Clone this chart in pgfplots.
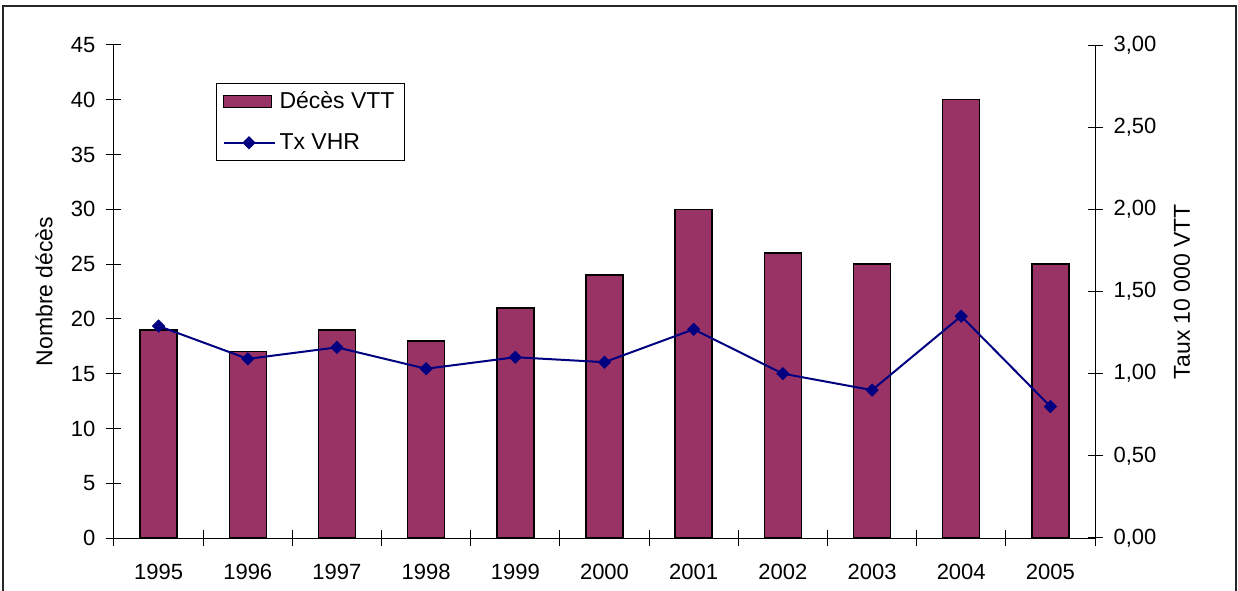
\documentclass[border=0pt]{standalone}
\usepackage{fontspec}
\setmainfont{Liberation Sans}
\usepackage{pgfplots}
\pgfplotsset{compat=1.18}
\definecolor{barcol}{HTML}{993366}
\definecolor{linecol}{HTML}{000080}
\newcommand{\myfont}{\fontsize{11}{13.2}\selectfont}
\newcommand{\legfont}{\fontsize{11.5}{13.8}\selectfont}
\pgfplotsset{
  mylinelegend/.style={legend image code/.code={\draw[mark repeat=2,mark phase=2,##1] plot coordinates {(0pt,0pt) (12.75pt,0pt) (25.5pt,0pt)};}},
  mybarlegend/.style={legend image code/.code={\draw[fill=barcol, draw=black, line width=0.6pt] (0pt,-3pt) rectangle (24pt,3pt);}},
}
\begin{document}
\begin{tikzpicture}[font=\myfont]
\useasboundingbox (0,0) rectangle (619pt,295pt);
\draw[line width=0.6pt, black!85] (1.5pt,-2pt) -- (1.5pt,292pt) -- (618pt,292pt) -- (618pt,-2pt);
\begin{axis}[
  at={(57pt,26pt)}, anchor=south west,
  scale only axis, width=490.5pt, height=246.5pt,
  xmin=-0.5, xmax=10.5, ymin=0, ymax=45,
  axis x line=bottom, axis y line=left,
  axis line style={-, line width=0.5pt, black},
  xtick={0,...,10},
  xticklabels={1995,1996,1997,1998,1999,2000,2001,2002,2003,2004,2005},
  minor xtick={-0.5,0.5,...,10.5},
  every major x tick/.style={draw=none},
  ytick={0,5,...,45},
  tick align=center,
  major tick length=7.5pt, minor tick length=8pt,
  tick style={line width=0.5pt, black},
  /pgf/number format/assume math mode=true,
  ylabel={Nombre décès},
  y label style={at={(axis description cs:0,0.5)}, anchor=center, yshift=35pt, font=\legfont},
  xticklabel style={yshift=-6pt},
  yticklabel style={xshift=-2pt},
]
\addplot[ybar, bar width=18.5pt, bar shift=0pt, fill=barcol, draw=black, line width=0.7pt]
  coordinates {(0,19) (1,17) (2,19) (3,18) (4,21) (5,24) (6,30) (7,26) (8,25) (9,40) (10,25)};
\end{axis}
\begin{axis}[
  at={(57pt,26pt)}, anchor=south west,
  scale only axis, width=490.5pt, height=246.5pt,
  xmin=-0.5, xmax=10.5, ymin=0, ymax=3,
  axis x line=none, axis y line=right,
  axis line style={-, line width=0.5pt, black},
  ytick={0,0.5,...,3},
  tick align=center,
  major tick length=7.5pt,
  tick style={line width=0.5pt, black},
  /pgf/number format/.cd, fixed, fixed zerofill, precision=2, use comma, assume math mode=true,
  /pgfplots/.cd,
  ylabel={Taux 10 000 VTT},
  y label style={at={(axis description cs:1,0.5)}, anchor=center, yshift=-43.5pt, font=\legfont},
  yticklabel style={xshift=2pt},
  legend style={draw=black, line width=0.5pt, at={(axis description cs:0.104,0.923)}, anchor=north west,
    inner xsep=3pt, inner ysep=2pt, row sep=7pt, font=\legfont,
    /tikz/every even column/.append style={column sep=3pt}},
  legend cell align=left,
]
\addlegendimage{mybarlegend}
\addlegendentry{Décès VTT}
\addplot[color=linecol, line width=1pt, mark=square*, mark size=2.1pt, mark options={rotate=45, fill=linecol, line width=0.5pt}, mylinelegend]
  coordinates {(0,1.29) (1,1.09) (2,1.16) (3,1.03) (4,1.10) (5,1.07) (6,1.27) (7,1.00) (8,0.90) (9,1.35) (10,0.80)};
\addlegendentry{Tx VHR}
\end{axis}
\end{tikzpicture}
\end{document}
